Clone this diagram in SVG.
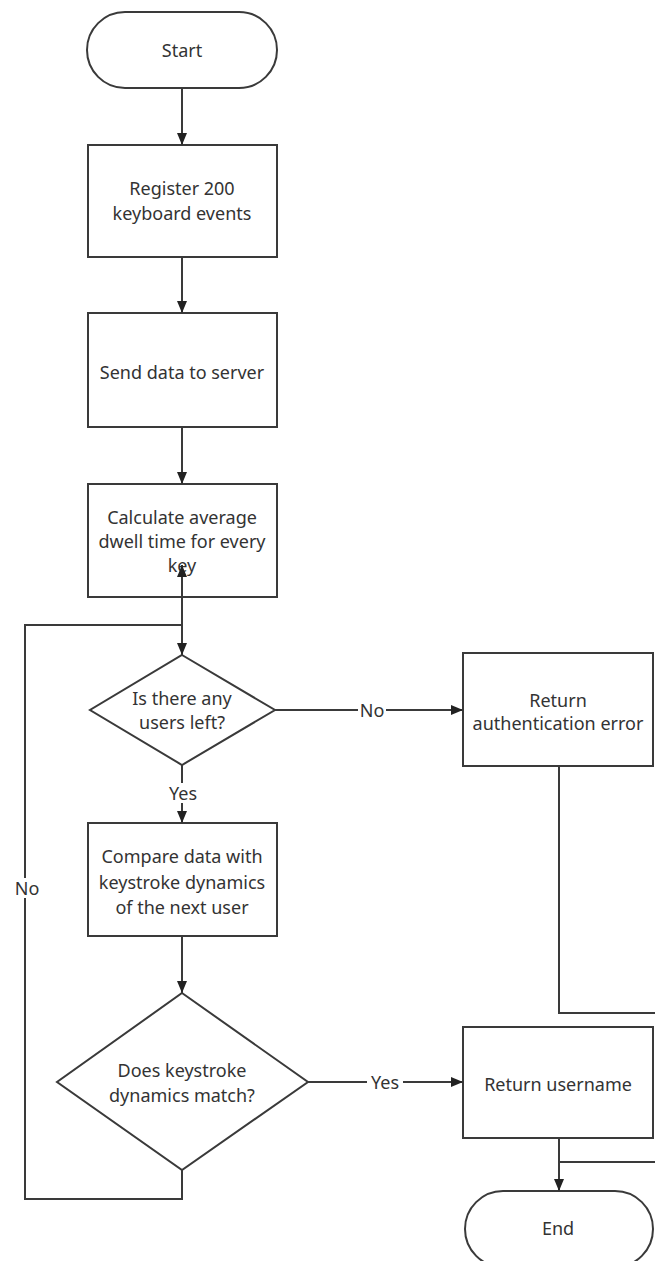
<svg xmlns="http://www.w3.org/2000/svg" width="655" height="1261" viewBox="0 0 655 1261">
<style>
.s{fill:#fff;stroke:#3a3a3a;stroke-width:2}
.c{fill:none;stroke:#3a3a3a;stroke-width:2}
text{font-family:"Noto Sans","Liberation Sans",sans-serif;font-size:18px;fill:#333;text-anchor:middle;dominant-baseline:central}
.lb{fill:#fff}
</style>
<defs>
<marker id="ah" viewBox="0 0 12 12" refX="12" refY="6" markerWidth="12" markerHeight="12" markerUnits="userSpaceOnUse" orient="auto">
<path d="M0,1 L12,6 L0,11 Z" fill="#222"/>
</marker>
</defs>
<rect width="655" height="1261" fill="#fff"/>
<g id="start"><rect class="s" x="87" y="12" width="190" height="76" rx="38" ry="38"/><text x="182" y="50">Start</text></g>
<g id="register"><rect class="s" x="88" y="145" width="189" height="112"/><text x="182" y="188">Register 200</text><text x="182" y="213">keyboard events</text></g>
<g id="send"><rect class="s" x="88" y="313" width="189" height="114"/><text x="182" y="372">Send data to server</text></g>
<g id="calc"><rect class="s" x="88" y="484" width="189" height="113"/><text x="182" y="517">Calculate average</text><text x="182" y="541">dwell time for every</text><text x="182" y="565">key</text></g>
<g id="usersleft"><polygon class="s" points="182,655 275,710 182,765 90,710"/><text x="182" y="698">Is there any</text><text x="182" y="722">users left?</text></g>
<g id="autherr"><rect class="s" x="463" y="653" width="190" height="113"/><text x="558" y="700">Return</text><text x="558" y="723">authentication error</text></g>
<g id="compare"><rect class="s" x="88" y="823" width="189" height="113"/><text x="182" y="856">Compare data with</text><text x="182" y="882">keystroke dynamics</text><text x="182" y="907">of the next user</text></g>
<g id="match"><polygon class="s" points="182,993 308,1082 182,1170 57,1082"/><text x="182" y="1070">Does keystroke</text><text x="182" y="1095">dynamics match?</text></g>
<g id="username"><rect class="s" x="463" y="1027" width="190" height="111"/><text x="558" y="1084">Return username</text></g>
<g id="end"><rect class="s" x="465" y="1191" width="188" height="76" rx="38" ry="38"/><text x="558" y="1228">End</text></g>
<g id="connectors">
<path class="c" d="M182,88 V145" marker-end="url(#ah)"/>
<path class="c" d="M182,257 V313" marker-end="url(#ah)"/>
<path class="c" d="M182,427 V484" marker-end="url(#ah)"/>
<path class="c" d="M182,625 V565" marker-end="url(#ah)"/>
<path class="c" d="M182,597 V655" marker-end="url(#ah)"/>
<path class="c" d="M275,710 H463" marker-end="url(#ah)"/>
<path class="c" d="M182,765 V823" marker-end="url(#ah)"/>
<path class="c" d="M182,936 V993" marker-end="url(#ah)"/>
<path class="c" d="M308,1082 H463" marker-end="url(#ah)"/>
<path class="c" d="M182,1170 V1199 H25 V625 H182"/>
<path class="c" d="M559,766 V1013 H665 V1162 H559"/>
<path class="c" d="M559,1138 V1191" marker-end="url(#ah)"/>
<rect class="lb" x="358" y="700" width="28" height="20"/><text x="372" y="710">No</text>
<rect class="lb" x="166" y="783" width="34" height="20"/><text x="183" y="793">Yes</text>
<rect class="lb" x="367" y="1072" width="36" height="20"/><text x="385" y="1082">Yes</text>
<rect class="lb" x="13" y="878" width="28" height="20"/><text x="27" y="888">No</text>
</g>
</svg>
